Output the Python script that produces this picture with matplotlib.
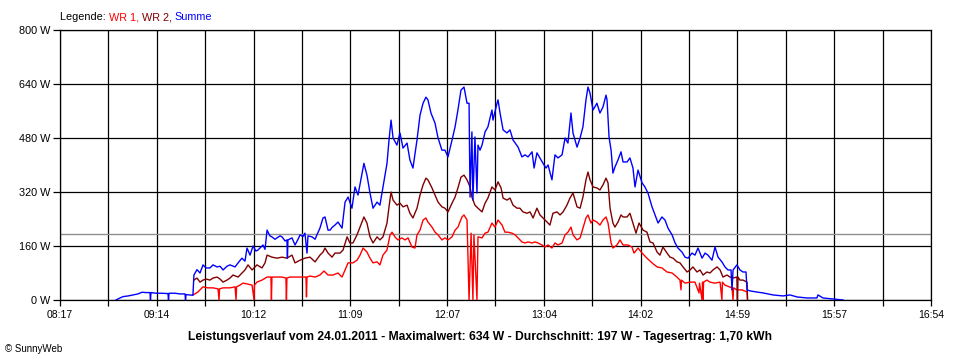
import numpy as np
import matplotlib
matplotlib.use("Agg")
import matplotlib.pyplot as plt

plt.rcParams['font.family'] = ['Liberation Sans', 'DejaVu Sans']

# ---- data (time in minutes since midnight, power in W) ----
x_tick_labels = ["08:17", "09:14", "10:12", "11:09", "12:07", "13:04", "14:02", "14:59", "15:57", "16:54"]
x_start, x_end = 497, 1014
y_ticks = [0, 160, 320, 480, 640, 800]
average_w = 197

summe_t = [530.2, 532.6, 534.4, 537.4, 540.3, 543.3, 545.7, 548.0, 550.4, 550.7,
           551.0, 554.0, 557.5, 561.1, 561.4, 561.7, 565.3, 568.2, 571.2, 571.5,
           571.8, 574.2, 575.9, 576.5, 578.3, 580.1, 581.9, 583.7, 586.0, 587.8,
           590.2, 592.0, 593.8, 596.1, 597.9, 600.9, 602.7, 605.0, 606.8, 608.0,
           609.8, 611.6, 613.3, 614.5, 617.5, 618.7, 619.9, 621.6, 622.8, 624.6,
           625.8, 627.6, 628.8, 630.6, 631.7, 632.0, 632.3, 634.7, 636.5, 638.3,
           639.5, 641.2, 642.4, 643.6, 644.2, 646.6, 648.4, 649.5, 651.3, 653.1,
           654.3, 656.1, 657.3, 658.5, 660.2, 662.0, 664.4, 666.2, 668.0, 670.3,
           672.1, 673.9, 676.3, 677.4, 679.2, 681.0, 682.8, 685.2, 686.9, 688.7,
           691.1, 692.3, 693.5, 694.7, 697.0, 698.8, 700.6, 703.0, 704.7, 706.5,
           708.9, 710.7, 712.5, 714.2, 715.4, 717.2, 719.6, 721.4, 723.7, 725.5,
           727.3, 729.7, 731.5, 733.2, 735.0, 736.8, 738.6, 739.8, 740.4, 741.5,
           742.1, 743.3, 744.5, 745.1, 746.3, 747.5, 749.3, 751.0, 753.4, 754.0,
           756.4, 757.0, 758.2, 760.0, 762.3, 764.1, 765.9, 768.9, 771.2, 773.0,
           774.8, 777.2, 778.4, 780.1, 782.5, 783.7, 785.5, 786.7, 789.0, 790.8,
           792.6, 795.0, 796.8, 798.5, 800.3, 801.5, 803.9, 805.7, 807.4, 809.2,
           810.4, 811.6, 813.4, 815.7, 817.5, 819.3, 821.1, 821.7, 822.9, 824.1,
           825.2, 826.4, 828.2, 830.0, 831.2, 833.6, 835.3, 837.1, 838.3, 840.1,
           842.5, 844.2, 846.0, 848.4, 850.2, 852.0, 854.3, 856.1, 857.9, 860.3,
           862.1, 863.8, 866.2, 868.0, 869.8, 872.1, 873.9, 875.7, 878.1, 879.9,
           881.6, 884.0, 885.8, 887.6, 889.9, 891.7, 893.5, 895.3, 895.9, 896.5,
           898.8, 900.6, 902.4, 904.2, 904.8, 906.6, 910.1, 914.3, 920.2, 926.2,
           930.3, 934.5, 940.4, 946.3, 946.9, 949.9, 955.8, 961.8]
summe_w = [0, 6, 10, 12, 15, 18, 23, 22, 22, 0,
           22, 20, 20, 19, 0, 20, 20, 18, 18, 0,
           16, 15, 14, 74, 90, 80, 104, 95, 95, 104,
           98, 100, 89, 100, 104, 98, 110, 124, 115, 154,
           133, 160, 145, 148, 163, 150, 207, 190, 187, 180,
           184, 190, 187, 175, 178, 124, 178, 184, 163, 180,
           193, 188, 198, 139, 190, 187, 180, 193, 213, 243,
           246, 207, 207, 215, 222, 231, 213, 290, 305, 272,
           335, 311, 376, 405, 370, 317, 272, 290, 281, 335,
           405, 474, 533, 480, 459, 495, 450, 465, 415, 391,
           474, 548, 583, 601, 593, 554, 524, 480, 444, 444,
           424, 474, 513, 563, 622, 631, 583, 583, 305, 498,
           296, 483, 317, 459, 444, 459, 498, 513, 563, 533,
           583, 593, 554, 504, 495, 504, 474, 453, 424, 430,
           424, 439, 391, 436, 415, 405, 391, 400, 356, 430,
           421, 430, 480, 465, 554, 495, 453, 480, 513, 593,
           631, 613, 563, 583, 554, 572, 607, 593, 483, 444,
           376, 394, 415, 439, 409, 409, 421, 391, 335, 385,
           347, 335, 317, 276, 252, 228, 246, 237, 213, 193,
           169, 154, 142, 127, 124, 139, 133, 154, 124, 139,
           133, 118, 157, 127, 113, 98, 89, 89, 30, 89,
           104, 89, 83, 83, 30, 27, 24, 21, 15, 12,
           15, 9, 6, 6, 15, 6, 3, 0]

wr2_t = [576.5, 578.3, 580.1, 581.9, 583.7, 586.0, 587.8, 590.2, 592.0, 593.8,
         596.1, 597.9, 599.7, 602.7, 605.6, 606.8, 608.6, 611.0, 613.9, 616.9,
         618.7, 619.9, 622.8, 625.8, 628.8, 631.7, 634.7, 636.5, 639.5, 642.4,
         645.4, 648.4, 651.3, 653.1, 654.3, 656.1, 658.5, 660.2, 663.2, 665.0,
         667.4, 669.1, 670.9, 673.3, 675.1, 677.4, 679.2, 681.0, 682.8, 685.2,
         686.9, 688.7, 691.1, 692.3, 693.5, 694.7, 697.0, 698.8, 700.6, 703.0,
         704.7, 706.5, 708.9, 710.7, 712.5, 714.2, 715.4, 717.8, 719.6, 721.4,
         723.7, 725.5, 727.3, 729.7, 731.5, 733.2, 735.0, 736.8, 738.6, 740.4,
         741.5, 743.3, 745.1, 747.5, 749.3, 751.0, 753.4, 755.2, 757.0, 758.8,
         760.0, 762.3, 764.1, 765.9, 768.3, 770.0, 771.8, 774.2, 776.0, 777.8,
         780.1, 781.9, 783.7, 786.1, 787.8, 789.6, 792.0, 793.8, 795.6, 797.9,
         799.7, 801.5, 803.9, 805.7, 807.4, 809.2, 810.4, 811.6, 813.4, 815.7,
         817.5, 819.3, 821.1, 822.3, 823.5, 825.2, 826.4, 828.2, 830.0, 831.2,
         833.6, 835.3, 837.1, 838.9, 840.7, 843.1, 845.4, 847.2, 849.0, 851.4,
         853.1, 854.9, 857.3, 859.1, 860.9, 863.2, 865.0, 866.8, 869.2, 871.0,
         872.7, 875.1, 876.9, 878.7, 881.0, 882.8, 884.6, 887.0, 888.8, 890.5,
         892.9, 894.7, 896.5, 898.8, 899.1, 899.4, 900.6, 902.4, 904.8, 905.1]
wr2_w = [59, 65, 53, 59, 62, 59, 65, 68, 62, 53,
         59, 65, 74, 68, 83, 89, 104, 89, 104, 95,
         110, 133, 127, 124, 127, 124, 133, 110, 118, 124,
         127, 113, 133, 142, 154, 139, 127, 139, 139, 148,
         187, 169, 169, 193, 216, 246, 228, 187, 169, 187,
         178, 187, 228, 276, 320, 296, 281, 287, 276, 281,
         257, 243, 272, 311, 341, 361, 356, 332, 311, 290,
         276, 272, 261, 287, 305, 332, 364, 370, 356, 335,
         305, 281, 272, 261, 287, 302, 335, 326, 350, 332,
         302, 296, 302, 281, 272, 272, 261, 257, 261, 243,
         272, 252, 243, 231, 222, 257, 261, 252, 261, 281,
         302, 317, 276, 272, 305, 356, 379, 356, 335, 332,
         326, 341, 361, 347, 272, 228, 216, 231, 252, 246,
         246, 257, 228, 198, 228, 207, 201, 172, 169, 142,
         133, 157, 139, 127, 124, 113, 110, 98, 83, 89,
         98, 83, 89, 74, 83, 80, 89, 98, 89, 68,
         74, 68, 65, 68, 0, 68, 59, 59, 53, 0]

wr1_t = [575.9, 577.7, 578.9, 580.1, 581.9, 584.8, 587.8, 590.8, 591.4, 591.7,
         593.8, 597.9, 600.9, 601.5, 601.8, 603.8, 605.6, 608.6, 611.0, 612.2,
         612.4, 613.9, 616.9, 619.9, 622.2, 622.5, 622.8, 625.8, 628.8, 631.1,
         631.4, 631.7, 633.5, 636.5, 639.5, 643.0, 643.3, 643.6, 645.4, 648.4,
         651.3, 653.7, 656.1, 659.0, 662.0, 664.4, 666.2, 668.0, 670.9, 673.3,
         675.1, 676.9, 679.2, 681.0, 682.8, 685.2, 686.9, 688.7, 691.1, 692.9,
         694.1, 695.8, 697.6, 700.0, 701.8, 703.6, 705.9, 707.7, 708.9, 710.7,
         712.5, 714.2, 715.4, 717.8, 719.6, 721.4, 723.7, 725.5, 727.3, 729.7,
         731.5, 733.2, 735.6, 736.8, 738.6, 739.8, 741.0, 742.1, 742.7, 744.5,
         745.1, 747.5, 749.3, 751.0, 753.4, 755.2, 757.0, 759.4, 761.1, 762.9,
         765.3, 767.1, 768.9, 771.2, 773.0, 774.8, 777.2, 778.9, 780.7, 783.1,
         784.9, 786.7, 789.0, 790.8, 792.6, 795.0, 796.8, 798.5, 800.3, 801.5,
         803.9, 805.7, 807.4, 809.2, 810.4, 812.2, 813.4, 815.7, 817.5, 819.3,
         821.1, 822.3, 824.1, 825.2, 827.6, 829.4, 831.2, 834.1, 836.5, 837.7,
         840.1, 842.5, 845.4, 848.4, 851.4, 854.3, 857.3, 860.3, 863.2, 865.0,
         865.6, 865.9, 868.0, 871.0, 873.9, 876.3, 876.6, 878.1, 878.4, 878.7,
         879.0, 881.0, 882.8, 885.8, 888.8, 889.9, 890.2, 891.7, 895.9, 896.5,
         896.8, 898.8, 901.8, 904.8, 905.1]
wr1_w = [15, 20, 24, 30, 39, 36, 36, 33, 0, 33,
         36, 36, 39, 0, 39, 44, 50, 47, 44, 0,
         44, 53, 59, 68, 68, 0, 68, 68, 68, 65,
         0, 65, 68, 68, 68, 68, 9, 68, 71, 68,
         74, 86, 74, 74, 80, 68, 89, 110, 110, 118,
         133, 154, 142, 124, 110, 113, 104, 133, 148, 193,
         201, 187, 178, 184, 178, 184, 157, 154, 193, 207,
         237, 243, 231, 216, 201, 193, 178, 184, 178, 187,
         207, 216, 246, 252, 237, 0, 198, 0, 193, 0,
         187, 184, 198, 201, 228, 216, 237, 222, 201, 201,
         198, 193, 184, 172, 169, 172, 169, 172, 169, 163,
         157, 163, 154, 169, 163, 169, 193, 201, 216, 193,
         178, 184, 213, 243, 252, 228, 237, 231, 222, 237,
         246, 228, 169, 154, 163, 178, 163, 163, 157, 139,
         154, 139, 124, 110, 98, 95, 83, 80, 68, 59,
         30, 59, 50, 53, 53, 21, 50, 0, 53, 0,
         53, 59, 53, 50, 53, 0, 53, 44, 36, 0,
         36, 30, 30, 24, 0]

# ---- figure ----
fig = plt.figure(figsize=(9.6, 3.6), dpi=100)
fig.patch.set_facecolor('white')
ax = fig.add_axes([60 / 960, 60 / 360, 871 / 960, 270 / 360])

ax.plot(wr1_t, wr1_w, color='#ff0000', lw=1.0, zorder=3)
ax.plot(wr2_t, wr2_w, color='#800000', lw=1.0, zorder=4)
ax.plot(summe_t, summe_w, color='#0000ff', lw=1.0, zorder=5)
ax.axhline(average_w, color='#909090', lw=1.0, zorder=2)

ax.set_xlim(x_start, x_end)
ax.set_ylim(0, 800)
xt = np.linspace(x_start, x_end, 2 * (len(x_tick_labels) - 1) + 1)
xl = []
for i in range(len(xt)):
    xl.append(x_tick_labels[i // 2] if i % 2 == 0 else '')
ax.set_xticks(xt)
ax.set_xticklabels(xl)
ax.set_yticks(y_ticks)
ax.set_yticklabels([f"{v} W" for v in y_ticks])
ax.grid(True, color='black', lw=0.9, zorder=1)
ax.set_axisbelow(True)
for s in ax.spines.values():
    s.set_color('black')
    s.set_linewidth(0.9)
ax.tick_params(axis='x', length=4.5, width=0.9, pad=3, labelsize=7.5, colors='black')
ax.tick_params(axis='y', length=5, width=0.9, pad=2, labelsize=7.8, colors='black')

# legend line
renderer = fig.canvas.get_renderer()
parts = [("Legende: ", 'black'), ("WR 1, ", '#ff0000'), ("WR 2, ", '#800000'), ("Summe", '#0000ff')]
xpos = 60 / 960
for txt, col in parts:
    t = fig.text(xpos, 1 - 17 / 360, txt, color=col, fontsize=7.8, va='center', ha='left')
    bb = t.get_window_extent(renderer=renderer)
    xpos += bb.width / 960

fig.text(0.5, 1 - 337 / 360,
         "Leistungsverlauf vom 24.01.2011 - Maximalwert: 634 W - Durchschnitt: 197 W - Tagesertrag: 1,70 kWh",
         ha='center', va='center', fontsize=8.7, fontweight='bold')
fig.text(5 / 960, 1 - 349 / 360, "\u00a9 SunnyWeb", ha='left', va='center', fontsize=7)

fig.savefig("out.png", dpi=100)
